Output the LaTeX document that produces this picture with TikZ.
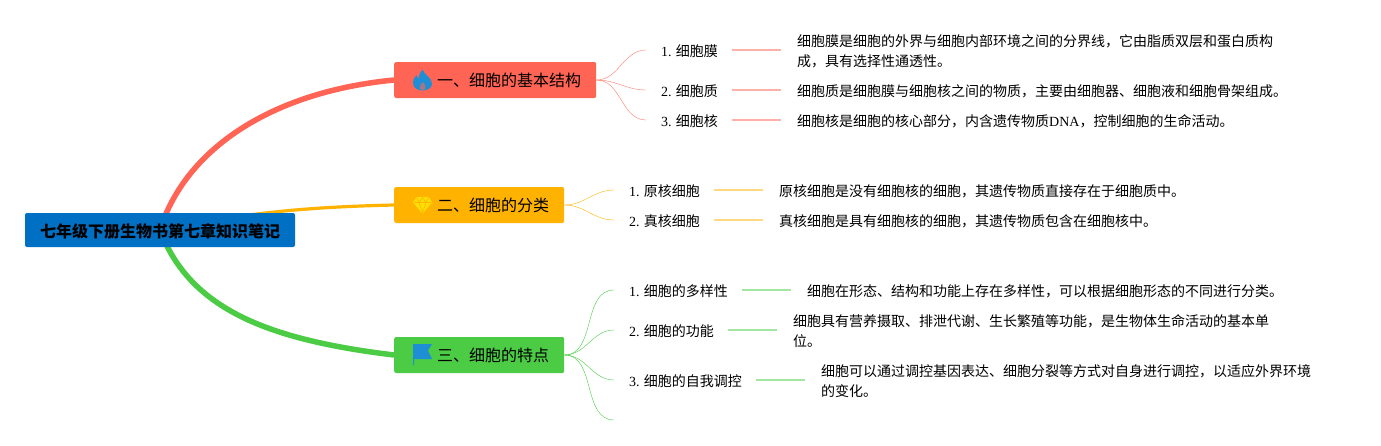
\documentclass[tikz,border=0pt]{standalone}
\usepackage{fontspec}
\setmainfont{Noto Sans CJK SC}
\newfontfamily\latfont{Liberation Serif}
\usetikzlibrary{backgrounds}
\definecolor{rootblue}{HTML}{0070C4}
\definecolor{redbranch}{HTML}{FF6454}
\definecolor{yellowbranch}{HTML}{FFB300}
\definecolor{greenbranch}{HTML}{4CCB45}
\definecolor{iconblue}{HTML}{1E8FD5}
\newcommand{\lat}[1]{{\latfont #1}}
\tikzset{
  rootbox/.style={fill=rootblue, rounded corners=2pt, minimum width=270pt, minimum height=34pt, inner sep=0pt, text height=14.5pt, text depth=0pt, font=\fontsize{16}{18}\selectfont\bfseries},
  branchbox/.style={rounded corners=2pt, minimum height=36pt, inner sep=0pt, anchor=west, text height=14pt, text depth=0.5pt, font=\fontsize{16}{20}\selectfont},
  topic/.style={anchor=west, inner xsep=15pt, inner ysep=0pt, text height=13.3pt, text depth=0.7pt, font=\fontsize{14}{20}\selectfont},
  detail/.style={anchor=west, align=left, inner xsep=16pt, inner ysep=0pt, font=\fontsize{14}{20}\selectfont},
  twig/.style={out=0, in=180, line width=0.9pt},
  dash line/.style={line width=1.4pt, opacity=0.5, shorten <=-1pt}
}
\begin{document}
\begin{tikzpicture}[x=1pt, y=-1pt]
    \useasboundingbox (0,0) rectangle (1381,445);
    % main boxes
    \node[rootbox] (root) at (160,230) {七年级下册生物书第七章知识笔记};
    \node[branchbox, fill=redbranch, minimum width=202pt] (cell) at (394,80) {\hspace*{43pt}一、细胞的基本结构\hspace*{15pt}};
    \node[branchbox, fill=yellowbranch, minimum width=170pt] (kind) at (394,205) {\hspace*{43pt}二、细胞的分类\hspace*{15pt}};
    \node[branchbox, fill=greenbranch, minimum width=170pt] (trait) at (394,355) {\hspace*{43pt}三、细胞的特点\hspace*{15pt}};

    % first branch
    \node[topic] (membrane) at (646,50) {\lat{1.} 细胞膜};
    \node[topic] (plasma) at (646,90) {\lat{2.} 细胞质};
    \node[topic] (nucleus) at (646,120) {\lat{3.} 细胞核};
    \node[detail] (membranetext) at (781,51) {细胞膜是细胞的外界与细胞内部环境之间的分界线，它由脂质双层和蛋白质构\\成，具有选择性通透性。};
    \node[detail] (plasmatext) at (781,91) {细胞质是细胞膜与细胞核之间的物质，主要由细胞器、细胞液和细胞骨架组成。};
    \node[detail] (nucleustext) at (781,121) {细胞核是细胞的核心部分，内含遗传物质\lat{DNA}，控制细胞的生命活动。};

    % second branch
    \node[topic] (prokaryote) at (614,190) {\lat{1.} 原核细胞};
    \node[topic] (eukaryote) at (614,220) {\lat{2.} 真核细胞};
    \node[detail] (prokaryotetext) at (763,191) {原核细胞是没有细胞核的细胞，其遗传物质直接存在于细胞质中。};
    \node[detail] (eukaryotetext) at (763,221) {真核细胞是具有细胞核的细胞，其遗传物质包含在细胞核中。};

    % third branch
    \node[topic] (variety) at (614,290) {\lat{1.} 细胞的多样性};
    \node[topic] (function) at (614,330) {\lat{2.} 细胞的功能};
    \node[topic] (control) at (614,380) {\lat{3.} 细胞的自我调控};
    \coordinate (blank) at (614,420);
    \node[detail] (varietytext) at (791,291) {细胞在形态、结构和功能上存在多样性，可以根据细胞形态的不同进行分类。};
    \node[detail] (functiontext) at (777,331) {细胞具有营养摄取、排泄代谢、生长繁殖等功能，是生物体生命活动的基本单\\位。};
    \node[detail] (controltext) at (805,381) {细胞可以通过调控基因表达、细胞分裂等方式对自身进行调控，以适应外界环境\\的变化。};

    % thick curves behind the boxes
    \begin{scope}[on background layer]
      \draw[redbranch, line width=5.5pt] (root.center) .. controls (185,150) and (270,92) .. (cell.west);
      \draw[yellowbranch, line width=3.2pt] (root.center) .. controls (250,212) and (310,207) .. (kind.west);
      \draw[greenbranch, line width=5.5pt] (root.center) .. controls (190,310) and (270,340) .. (trait.west);
    \end{scope}

    % thin links
    \draw[redbranch, opacity=0.85] (cell.east) to[twig] (membrane.west);
    \draw[redbranch, opacity=0.85] (cell.east) to[twig] (plasma.west);
    \draw[redbranch, opacity=0.85] (cell.east) to[twig] (nucleus.west);
    \draw[yellowbranch] (kind.east) to[twig] (prokaryote.west);
    \draw[yellowbranch] (kind.east) to[twig] (eukaryote.west);
    \draw[greenbranch] (trait.east) to[twig] (variety.west);
    \draw[greenbranch] (trait.east) to[twig] (function.west);
    \draw[greenbranch] (trait.east) to[twig] (control.west);
    \draw[greenbranch] (trait.east) to[twig] (blank);

    % short bars
    \draw[dash line, redbranch] (membrane.east) -- (membrane.east -| membranetext.west);
    \draw[dash line, redbranch] (plasma.east) -- (plasma.east -| plasmatext.west);
    \draw[dash line, redbranch] (nucleus.east) -- (nucleus.east -| nucleustext.west);
    \draw[dash line, yellowbranch] (prokaryote.east) -- (prokaryote.east -| prokaryotetext.west);
    \draw[dash line, yellowbranch] (eukaryote.east) -- (eukaryote.east -| eukaryotetext.west);
    \draw[dash line, greenbranch] (variety.east) -- (variety.east -| varietytext.west);
    \draw[dash line, greenbranch] (function.east) -- (function.east -| functiontext.west);
    \draw[dash line, greenbranch] (control.east) -- (control.east -| controltext.west);

    % flame
    \fill[iconblue] (422.5,69.5) .. controls (424,75) and (432,77) .. (432,84) .. controls (432,88) and (427,90.5) .. (422.5,90.5) .. controls (418,90.5) and (413,88) .. (413,83) .. controls (413,79) and (415,77) .. (416.5,75) .. controls (417,77) and (417.5,78) .. (418.5,78.5) .. controls (419,75) and (420,72) .. (422.5,69.5) -- cycle;
    \fill[redbranch!60!iconblue] (423,82) .. controls (424,84) and (426,85) .. (425.5,88) .. controls (425,90.5) and (420,90.5) .. (419.5,88) .. controls (419,85) and (422,84) .. (423,82) -- cycle;
    % diamond
    \fill[yellow!70!yellowbranch] (416.5,197) -- (428.5,197) -- (432,202.5) -- (422.5,213.5) -- (413,202.5) -- cycle;
    \draw[yellowbranch, line width=0.6pt, line join=round] (414,202.5) -- (431,202.5) (416.5,197.5) -- (419,202.5) -- (422.5,197.5) -- (426,202.5) -- (428.5,197.5) (419,202.5) -- (422.5,212.5) -- (426,202.5);
    % flag
    \fill[iconblue] (413,344) -- (432,344) -- (428,350.5) -- (432,359) -- (414,359) -- (414,365) -- (413,365) -- cycle;
\end{tikzpicture}
\end{document}
